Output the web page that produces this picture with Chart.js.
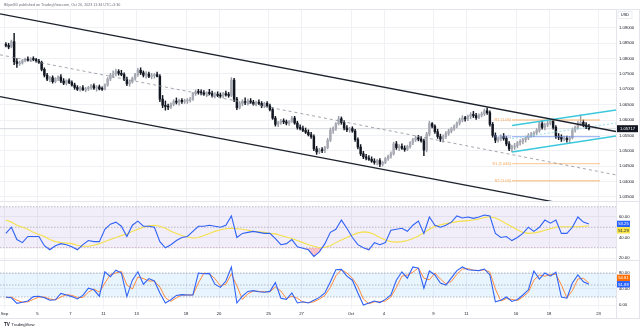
<!DOCTYPE html>
<html>
<head>
<meta charset="utf-8">
<script src="https://cdn.jsdelivr.net/npm/chart.js@4.4.0/dist/chart.umd.min.js"></script>
<style>
html, body { margin: 0; padding: 0; background: #fff; }
#wrap { position: relative; width: 640px; height: 331px; overflow: hidden; }
canvas { position: absolute; left: 0; }
</style>
</head>
<body>
<div id="wrap">
  <canvas id="bg" width="640" height="331" style="top:0"></canvas>
  <canvas id="main" width="640" height="191" style="top:10px"></canvas>
  <canvas id="rsiPane" width="640" height="58" style="top:202px"></canvas>
  <canvas id="stochPane" width="640" height="57" style="top:261px"></canvas>
</div>
<script>
const FONT = '"Liberation Sans", Arial, sans-serif';
const TEXT = '#131722';
const GRID = '#f0f1f4';

// x axis is counted in trading days, Sep 1 = 0
const tickDays = [0, 2, 4, 6, 8, 11, 13, 16, 18, 21, 23, 26, 28, 31, 33, 36];
const tickLabels = ['Sep', '5', '7', '11', '13', '18', '20', '25', '27', 'Oct', '4', '9', '11', '16', '18', '23'];
const xMin = -0.273, xMax = 37.06;
const priceTicks = [1.035, 1.04, 1.045, 1.05, 1.055, 1.06, 1.065, 1.07, 1.075, 1.08, 1.085, 1.09];

// EURUSD 4h candles [open, high, low, close], 6 per day
const ohlc = [
  // Sep 1
  [1.0845,1.0852,1.0838,1.0843],[1.0843,1.0850,1.0832,1.0838],[1.0838,1.0860,1.0835,1.0855],[1.0855,1.0882,1.0780,1.0790],[1.0790,1.0800,1.0771,1.0784],[1.0784,1.0792,1.0778,1.0786],
  // Sep 4
  [1.0786,1.0797,1.0782,1.0794],[1.0794,1.0802,1.0789,1.0798],[1.0798,1.0806,1.0792,1.0795],[1.0795,1.0803,1.0790,1.0800],[1.0800,1.0806,1.0793,1.0797],[1.0797,1.0801,1.0788,1.0792],
  // Sep 5
  [1.0792,1.0798,1.0784,1.0788],[1.0788,1.0792,1.0760,1.0765],[1.0765,1.0770,1.0740,1.0746],[1.0746,1.0752,1.0728,1.0733],[1.0733,1.0742,1.0724,1.0738],[1.0738,1.0744,1.0720,1.0725],
  // Sep 6
  [1.0725,1.0738,1.0721,1.0735],[1.0735,1.0744,1.0728,1.0740],[1.0740,1.0748,1.0722,1.0727],[1.0727,1.0735,1.0715,1.0720],[1.0720,1.0731,1.0714,1.0728],[1.0728,1.0734,1.0718,1.0722],
  // Sep 7
  [1.0722,1.0728,1.0710,1.0714],[1.0714,1.0720,1.0700,1.0706],[1.0706,1.0712,1.0696,1.0700],[1.0700,1.0710,1.0694,1.0705],[1.0705,1.0712,1.0696,1.0698],[1.0698,1.0706,1.0692,1.0702],
  // Sep 8
  [1.0702,1.0710,1.0696,1.0706],[1.0706,1.0716,1.0700,1.0712],[1.0712,1.0718,1.0700,1.0704],[1.0704,1.0712,1.0694,1.0708],[1.0708,1.0714,1.0698,1.0701],[1.0701,1.0708,1.0696,1.0700],
  // Sep 11
  [1.0700,1.0718,1.0698,1.0714],[1.0714,1.0738,1.0710,1.0734],[1.0734,1.0752,1.0728,1.0746],[1.0746,1.0760,1.0738,1.0750],[1.0750,1.0766,1.0744,1.0758],[1.0758,1.0764,1.0746,1.0752],
  // Sep 12
  [1.0752,1.0762,1.0744,1.0748],[1.0748,1.0754,1.0728,1.0732],[1.0732,1.0740,1.0712,1.0718],[1.0718,1.0730,1.0710,1.0724],[1.0724,1.0740,1.0720,1.0736],[1.0736,1.0752,1.0730,1.0748],
  // Sep 13
  [1.0748,1.0768,1.0742,1.0762],[1.0762,1.0770,1.0748,1.0754],[1.0754,1.0760,1.0740,1.0746],[1.0746,1.0758,1.0736,1.0750],[1.0750,1.0756,1.0738,1.0742],[1.0742,1.0752,1.0734,1.0744],
  // Sep 14
  [1.0744,1.0752,1.0736,1.0748],[1.0748,1.0756,1.0740,1.0742],[1.0742,1.0748,1.0660,1.0668],[1.0668,1.0680,1.0640,1.0648],[1.0648,1.0662,1.0632,1.0644],[1.0644,1.0652,1.0634,1.0642],
  // Sep 15
  [1.0642,1.0656,1.0638,1.0652],[1.0652,1.0666,1.0646,1.0660],[1.0660,1.0672,1.0652,1.0658],[1.0658,1.0668,1.0648,1.0664],[1.0664,1.0670,1.0654,1.0660],[1.0660,1.0668,1.0654,1.0662],
  // Sep 18
  [1.0662,1.0670,1.0654,1.0664],[1.0664,1.0674,1.0658,1.0668],[1.0668,1.0690,1.0664,1.0686],[1.0686,1.0698,1.0680,1.0692],[1.0692,1.0700,1.0684,1.0690],[1.0690,1.0698,1.0682,1.0688],
  // Sep 19
  [1.0688,1.0696,1.0680,1.0684],[1.0684,1.0692,1.0676,1.0690],[1.0690,1.0700,1.0682,1.0686],[1.0686,1.0694,1.0674,1.0680],[1.0680,1.0690,1.0672,1.0684],[1.0684,1.0692,1.0676,1.0680],
  // Sep 20
  [1.0680,1.0688,1.0672,1.0678],[1.0678,1.0690,1.0672,1.0686],[1.0686,1.0694,1.0678,1.0682],[1.0682,1.0690,1.0674,1.0680],[1.0680,1.0738,1.0676,1.0730],[1.0730,1.0736,1.0660,1.0668],
  // Sep 21
  [1.0668,1.0674,1.0634,1.0640],[1.0640,1.0660,1.0636,1.0654],[1.0654,1.0666,1.0646,1.0660],[1.0660,1.0672,1.0650,1.0656],[1.0656,1.0668,1.0648,1.0662],[1.0662,1.0670,1.0654,1.0658],
  // Sep 22
  [1.0658,1.0664,1.0648,1.0652],[1.0652,1.0662,1.0646,1.0658],[1.0658,1.0666,1.0650,1.0654],[1.0654,1.0660,1.0640,1.0646],[1.0646,1.0658,1.0640,1.0654],[1.0654,1.0660,1.0642,1.0646],
  // Sep 25
  [1.0646,1.0652,1.0630,1.0634],[1.0634,1.0640,1.0602,1.0606],[1.0606,1.0612,1.0580,1.0586],[1.0586,1.0596,1.0578,1.0592],[1.0592,1.0602,1.0586,1.0596],[1.0596,1.0604,1.0588,1.0594],
  // Sep 26
  [1.0594,1.0600,1.0584,1.0590],[1.0590,1.0598,1.0582,1.0596],[1.0596,1.0612,1.0592,1.0606],[1.0606,1.0612,1.0586,1.0590],[1.0590,1.0596,1.0570,1.0576],[1.0576,1.0584,1.0568,1.0572],
  // Sep 27
  [1.0572,1.0580,1.0562,1.0566],[1.0566,1.0574,1.0556,1.0560],[1.0560,1.0568,1.0548,1.0552],[1.0552,1.0560,1.0540,1.0546],[1.0546,1.0552,1.0500,1.0506],[1.0506,1.0514,1.0488,1.0496],
  // Sep 28
  [1.0496,1.0508,1.0490,1.0502],[1.0502,1.0510,1.0494,1.0500],[1.0500,1.0514,1.0494,1.0510],[1.0510,1.0540,1.0506,1.0534],[1.0534,1.0574,1.0530,1.0566],[1.0566,1.0578,1.0556,1.0572],
  // Sep 29
  [1.0572,1.0592,1.0566,1.0588],[1.0588,1.0612,1.0584,1.0604],[1.0604,1.0610,1.0586,1.0592],[1.0592,1.0598,1.0568,1.0574],[1.0574,1.0582,1.0562,1.0568],[1.0568,1.0576,1.0560,1.0572],
  // Oct 2
  [1.0572,1.0578,1.0560,1.0564],[1.0564,1.0570,1.0530,1.0536],[1.0536,1.0542,1.0506,1.0512],[1.0512,1.0520,1.0484,1.0490],[1.0490,1.0498,1.0474,1.0480],[1.0480,1.0488,1.0470,1.0476],
  // Oct 3
  [1.0476,1.0484,1.0468,1.0472],[1.0472,1.0480,1.0462,1.0466],[1.0466,1.0474,1.0456,1.0462],[1.0462,1.0472,1.0454,1.0468],[1.0468,1.0474,1.0448,1.0456],[1.0456,1.0466,1.0450,1.0462],
  // Oct 4
  [1.0462,1.0478,1.0458,1.0474],[1.0474,1.0486,1.0468,1.0482],[1.0482,1.0496,1.0476,1.0490],[1.0490,1.0528,1.0486,1.0522],[1.0522,1.0530,1.0504,1.0510],[1.0510,1.0520,1.0500,1.0514],
  // Oct 5
  [1.0514,1.0522,1.0504,1.0508],[1.0508,1.0516,1.0498,1.0504],[1.0504,1.0518,1.0500,1.0514],[1.0514,1.0530,1.0508,1.0526],[1.0526,1.0540,1.0520,1.0536],[1.0536,1.0548,1.0530,1.0542],
  // Oct 6
  [1.0542,1.0550,1.0532,1.0538],[1.0538,1.0546,1.0528,1.0532],[1.0532,1.0538,1.0484,1.0502],[1.0502,1.0560,1.0496,1.0554],[1.0554,1.0596,1.0548,1.0588],[1.0588,1.0592,1.0574,1.0580],
  // Oct 9
  [1.0580,1.0584,1.0556,1.0562],[1.0562,1.0570,1.0540,1.0546],[1.0546,1.0554,1.0530,1.0538],[1.0538,1.0552,1.0528,1.0546],[1.0546,1.0562,1.0540,1.0556],[1.0556,1.0570,1.0550,1.0564],
  // Oct 10
  [1.0564,1.0576,1.0558,1.0572],[1.0572,1.0584,1.0566,1.0580],[1.0580,1.0594,1.0574,1.0590],[1.0590,1.0606,1.0584,1.0600],[1.0600,1.0614,1.0594,1.0606],[1.0606,1.0612,1.0596,1.0604],
  // Oct 11
  [1.0604,1.0616,1.0598,1.0612],[1.0612,1.0624,1.0604,1.0618],[1.0618,1.0628,1.0608,1.0614],[1.0614,1.0622,1.0602,1.0608],[1.0608,1.0620,1.0604,1.0616],[1.0616,1.0626,1.0610,1.0620],
  // Oct 12
  [1.0620,1.0636,1.0614,1.0630],[1.0630,1.0640,1.0618,1.0624],[1.0624,1.0630,1.0580,1.0586],[1.0586,1.0592,1.0544,1.0550],[1.0550,1.0558,1.0526,1.0534],[1.0534,1.0544,1.0528,1.0538],
  // Oct 13
  [1.0538,1.0552,1.0532,1.0546],[1.0546,1.0556,1.0534,1.0540],[1.0540,1.0546,1.0516,1.0522],[1.0522,1.0530,1.0500,1.0506],[1.0506,1.0518,1.0496,1.0512],[1.0512,1.0524,1.0504,1.0516],
  // Oct 16
  [1.0516,1.0530,1.0510,1.0526],[1.0526,1.0536,1.0518,1.0530],[1.0530,1.0540,1.0522,1.0536],[1.0536,1.0548,1.0528,1.0542],[1.0542,1.0556,1.0536,1.0550],[1.0550,1.0560,1.0544,1.0554],
  // Oct 17
  [1.0554,1.0562,1.0546,1.0558],[1.0558,1.0572,1.0552,1.0566],[1.0566,1.0594,1.0560,1.0588],[1.0588,1.0598,1.0570,1.0576],[1.0576,1.0590,1.0568,1.0584],[1.0584,1.0596,1.0578,1.0590],
  // Oct 18
  [1.0590,1.0604,1.0584,1.0596],[1.0596,1.0602,1.0570,1.0576],[1.0576,1.0582,1.0540,1.0546],[1.0546,1.0556,1.0536,1.0544],[1.0544,1.0552,1.0530,1.0538],[1.0538,1.0548,1.0532,1.0540],
  // Oct 19
  [1.0540,1.0548,1.0528,1.0536],[1.0536,1.0546,1.0526,1.0542],[1.0542,1.0574,1.0538,1.0568],[1.0568,1.0580,1.0560,1.0576],[1.0576,1.0596,1.0570,1.0588],[1.0588,1.0617,1.0582,1.0592],
  // Oct 20
  [1.0592,1.0600,1.0578,1.0584],[1.0584,1.0592,1.0572,1.0578],[1.0578,1.0586,1.0568,1.05717]
];

// indicators, one value per two candles
const rsi = [44,50,38,35,41,41,41,32,28,32, 34,33,31,28,33,37,36,36,48,53, 55,51,41,52,56,51,51,50,36,30,
  33,37,40,41,46,51,51,52,51,50, 52,61,40,44,45,46,45,44,44,39, 33,34,38,31,29.5,28,21.5,26,34,45,
  48,57,49,40,33,30,28,35,33,35, 47,48,49,46,52,56,44,60,52,50, 52,55,61,59,60,58.7,60,62,61,44,
  40,41,37,40,44,50,46,50,57,54, 57,44,44,50,60,55,53.25];
const rsiMa = [57,55,52,50,48,45,43,41,38,36, 35,34.5,34,32.5,31.5,31.5,32.5,34,36,38, 40,42,43.5,46,48,50,51.5,52,51,49,
  46,44,42,40.5,39.5,40,42,44,46,47.5, 48.5,49,48.5,48,47,46,45.5,45,44,43.5, 42,40.5,39,37,35,33,31.5,30,30.5,32,
  35,37.5,40,42.5,44.5,45.5,45,43,40,37.5, 36,35.5,36,37,39,41.5,44.5,48,51,52.5, 53.5,54.5,55.5,56,56.5,57,58,59.5,60.3,59,
  56.5,53.5,50.5,47.5,45,44,44.5,45.5,47,48.5, 50,50.5,50.5,50.5,50.5,51,51.29];
const stochK = [20,18,4,7,10,21,22,18,12,13, 29,25,21,15,24,42,38,22,83,71, 87,80,21,62,83,52,66,60,30,5,
  13,24,26,25,25,80,78,79,52,44, 60,95,5,22,34,36,33,32,34,56, 17,14,30,5,8,5,12,19,30,58,
  88,89,72,62,30,0,5,10,6,14, 25,62,83,67,95,92,42,85,75,55, 50,68,86,95,88,87,86,90,75,8,
  12,20,9,14,25,38,85,65,80,72, 82,20,17,55,75,58,51.88];
const stochD = [18,20,12,7,8,14,20,20,15,13, 20,26,24,19,19,32,40,32,55,76, 80,84,50,40,70,66,60,60,45,18,
  9,18,25,25,25,55,80,78,66,48, 52,78,48,14,28,35,34,33,33,45, 35,16,22,17,7,6,8,15,24,44,
  73,88,80,67,46,15,3,8,8,10, 20,44,72,75,82,93,67,63,80,65, 53,59,77,90,91,87,86,88,82,40,
  10,16,14,11,20,32,62,75,72,76, 77,50,18,36,65,67,54.81];
const rsiLevels = [70, 50, 30];
const stochLevels = [80, 50, 20];

// drawings: [day, price]
const channelUpper = [[-0.273, 1.09459], [37.06, 1.05625]];
const channelLower = [[-0.273, 1.06759], [37.06, 1.02948]];
const channelMid = [[-0.273, 1.08124], [37.06, 1.04212]];
const risingUpper = [[30.76, 1.05821], [37.06, 1.06326]];
const risingLower = [[30.76, 1.04958], [37.06, 1.05479]];
const risingMid = [[30.76, 1.05397], [37.06, 1.05902]];
const pivotNames = ['R1 (1.06)', 'P (1.055)', 'S1 (1.046)', 'S2 (1.04)'];
const pivotValues = [1.0600, 1.0546, 1.0458, 1.0402];
const pivotColors = ['rgba(250,170,90,0.55)', 'rgba(110,140,235,0.6)', 'rgba(250,170,90,0.55)', 'rgba(250,170,90,0.55)'];
const pivotText = ['#f5a04e', '#6d8ce8', '#f5a04e', '#f5a04e'];
const pivotSpan = [30.76, 36.09];

const candleDay = i => Math.floor(i / 6) + (i % 6 + 0.5) / 6;
const pts = arr => arr.map(p => ({ x: p[0], y: p[1] }));
const lastClose = ohlc[ohlc.length - 1][3];

function lineDs(data, color, width, dash) {
  return { type: 'line', data: data, borderColor: color, borderWidth: width, borderDash: dash || [],
    pointRadius: 0, fill: false, tension: 0 };
}

function drawTag(ctx, x, yc, w, h, bg, fg, text) {
  ctx.save();
  ctx.fillStyle = bg;
  ctx.fillRect(x, yc - h / 2, w, h);
  ctx.fillStyle = fg;
  ctx.font = '4.2px ' + FONT;
  ctx.textAlign = 'center';
  ctx.textBaseline = 'middle';
  ctx.fillText(text, x + w / 2, yc + 0.3);
  ctx.restore();
}

function xScale(showLabels) {
  return {
    type: 'linear', min: xMin, max: xMax, offset: false,
    afterBuildTicks: s => { s.ticks = tickDays.map(v => ({ value: v })); },
    ticks: { display: showLabels, autoSkip: false, maxRotation: 0, padding: 2.5, color: TEXT,
      font: { family: FONT, size: 4.2 }, callback: (v, i) => tickLabels[i] },
    grid: { color: GRID, drawTicks: false, offset: false },
    border: { display: false },
    afterFit: s => { s.height = showLabels ? 9 : 0; s.paddingLeft = 0; s.paddingRight = 0; }
  };
}

function yScale(min, max, ticks, digits) {
  return {
    position: 'right', min: min, max: max,
    afterBuildTicks: s => { s.ticks = ticks.map(v => ({ value: v })); },
    ticks: { padding: 3, color: TEXT, font: { family: FONT, size: 4.2 }, callback: v => v.toFixed(digits) },
    grid: { color: GRID, drawTicks: false },
    border: { display: false },
    afterFit: s => { s.width = 24; s.paddingTop = 0; s.paddingBottom = 0; }
  };
}

function valueTags(items, push) {
  return {
    id: 'valueTags',
    afterDraw(chart) {
      const h = 6.4;
      const list = items.map(it => Object.assign({}, it, { py: chart.scales.y.getPixelForValue(it.value) }))
        .sort((a, b) => a.py - b.py);
      if (push === 'down') {
        for (let k = 1; k < list.length; k++) list[k].py = Math.max(list[k].py, list[k - 1].py + h);
      } else {
        for (let k = list.length - 2; k >= 0; k--) list[k].py = Math.min(list[k].py, list[k + 1].py - h);
      }
      list.forEach(b => drawTag(chart.ctx, chart.chartArea.right + 1, b.py, 13, h, b.bg, b.fg, b.value.toFixed(2)));
    }
  };
}

const mainOverlay = {
  id: 'mainOverlay',
  afterDraw(chart) {
    const ctx = chart.ctx, xs = chart.scales.x, ys = chart.scales.y;
    ctx.save();
    ctx.font = '4px ' + FONT;
    ctx.textAlign = 'right';
    ctx.textBaseline = 'middle';
    pivotNames.forEach((name, k) => {
      ctx.fillStyle = pivotText[k];
      ctx.fillText(name, xs.getPixelForValue(pivotSpan[0]) - 1, ys.getPixelForValue(pivotValues[k]));
    });
    // currency box
    ctx.strokeStyle = '#dfe1e6';
    ctx.lineWidth = 0.6;
    ctx.fillStyle = '#fff';
    ctx.fillRect(618, 1.5, 14, 7);
    ctx.strokeRect(618, 1.5, 14, 7);
    ctx.fillStyle = TEXT;
    ctx.textAlign = 'center';
    ctx.fillText('USD', 625, 5.2);
    ctx.restore();
    drawTag(ctx, chart.chartArea.right + 1, ys.getPixelForValue(lastClose), 21, 7, '#131722', '#fff', lastClose.toFixed(5));
  }
};

const baseOptions = {
  responsive: false, maintainAspectRatio: false, animation: false,
  layout: { padding: 0 },
  plugins: { legend: { display: false }, tooltip: { enabled: false } }
};

// main price pane
new Chart(document.getElementById('main'), {
  type: 'bar',
  data: {
    datasets: [
      lineDs(pts(channelUpper), '#1e222d', 1.3),
      lineDs(pts(channelLower), '#1e222d', 1.3),
      lineDs(pts(risingUpper), '#3cc8dc', 1.3),
      lineDs(pts(risingLower), '#3cc8dc', 1.3),
      lineDs(pts(risingMid), '#8fdde8', 0.9, [2, 2]),
      lineDs(pts(channelMid), '#8d909a', 0.8, [3, 3]),
      ...pivotValues.map((v, k) => lineDs([{ x: pivotSpan[0], y: v }, { x: pivotSpan[1], y: v }], pivotColors[k], 1.4)),
      {
        type: 'bar', grouped: false, barThickness: 1.8, minBarLength: 1, borderWidth: 0,
        data: ohlc.map((c, i) => ({ x: candleDay(i), y: [c[0], c[3]] })),
        backgroundColor: ctx => {
          const c = ohlc[ctx.dataIndex];
          return c && c[3] >= c[0] ? '#a7aab3' : '#131722';
        }
      },
      {
        type: 'bar', grouped: false, barThickness: 0.8, borderWidth: 0,
        data: ohlc.map((c, i) => ({ x: candleDay(i), y: [c[2], c[1]] })),
        backgroundColor: ctx => {
          const c = ohlc[ctx.dataIndex];
          return c && c[3] >= c[0] ? '#9a9da6' : '#131722';
        }
      },
      lineDs([{ x: xMin, y: lastClose }, { x: xMax, y: lastClose }], '#c9cbd1', 0.8)
    ]
  },
  options: Object.assign({}, baseOptions, {
    scales: { x: xScale(false), y: yScale(1.03362, 1.09583, priceTicks, 5) }
  }),
  plugins: [mainOverlay]
});

function levelSets(levels, band) {
  const sets = levels.map(v => lineDs([{ x: xMin, y: v }, { x: xMax, y: v }], '#9ea1aa', 0.7, [1.5, 1.5]));
  sets.push({ type: 'line', data: [{ x: xMin, y: levels[0] }, { x: xMax, y: levels[0] }], borderWidth: 0,
    pointRadius: 0, fill: { value: levels[levels.length - 1] }, backgroundColor: band });
  return sets;
}

// RSI pane
new Chart(document.getElementById('rsiPane'), {
  type: 'line',
  data: {
    datasets: [
      { data: rsi.map((v, j) => ({ x: candleDay(2 * j), y: v })), borderColor: '#2f62f5', borderWidth: 1.1,
        pointRadius: 0, tension: 0,
        fill: { target: { value: 30 }, above: 'rgba(0,0,0,0)', below: 'rgba(242,54,69,0.3)' } },
      { data: rsiMa.map((v, j) => ({ x: candleDay(2 * j), y: v })), borderColor: '#f5e04a', borderWidth: 1.1,
        pointRadius: 0, tension: 0, fill: false },
      ...levelSets(rsiLevels, 'rgba(126,87,194,0.1)')
    ]
  },
  options: Object.assign({}, baseOptions, {
    scales: { x: xScale(false), y: yScale(18.05, 74.63, [20, 40, 60], 2) }
  }),
  plugins: [valueTags([
    { value: rsi[rsi.length - 1], bg: '#2962ff', fg: '#fff' },
    { value: rsiMa[rsiMa.length - 1], bg: '#f7e34a', fg: '#131722' }
  ], 'down')]
});

// Stochastic pane
new Chart(document.getElementById('stochPane'), {
  type: 'line',
  data: {
    datasets: [
      { data: stochK.map((v, j) => ({ x: candleDay(2 * j), y: v })), borderColor: '#2f62f5', borderWidth: 1.1,
        pointRadius: 0, tension: 0, fill: false },
      { data: stochD.map((v, j) => ({ x: candleDay(2 * j), y: v })), borderColor: '#ff8a3d', borderWidth: 1,
        pointRadius: 0, tension: 0, fill: false },
      ...levelSets(stochLevels, 'rgba(33,150,243,0.1)')
    ]
  },
  options: Object.assign({}, baseOptions, {
    scales: { x: xScale(true), y: yScale(-10, 110, [0, 40, 80], 2) }
  }),
  plugins: [valueTags([
    { value: stochD[stochD.length - 1], bg: '#ff6d00', fg: '#fff' },
    { value: stochK[stochK.length - 1], bg: '#2962ff', fg: '#fff' }
  ], 'up')]
});

// page frame, title and logo
const bg = document.getElementById('bg').getContext('2d');
bg.strokeStyle = '#e3e5ea';
bg.lineWidth = 1;
[[0, 9.5, 640, 9.5], [0, 201.5, 640, 201.5], [0, 260.5, 640, 260.5], [0, 318.5, 640, 318.5],
 [616.5, 10, 616.5, 318], [639.5, 10, 639.5, 318]].forEach(l => {
  bg.beginPath(); bg.moveTo(l[0], l[1]); bg.lineTo(l[2], l[3]); bg.stroke();
});
bg.fillStyle = '#6a6d78';
bg.font = '3.7px ' + FONT;
bg.textBaseline = 'middle';
bg.fillText('BiljanSD published on TradingView.com, Oct 20, 2023 11:34 UTC+3:30', 4, 5);
bg.fillStyle = TEXT;
bg.font = 'bold 4.6px ' + FONT;
bg.fillText('TV', 4, 324.5);
bg.font = '4.2px ' + FONT;
bg.fillText('TradingView', 11.5, 324.5);
</script>
</body>
</html>
